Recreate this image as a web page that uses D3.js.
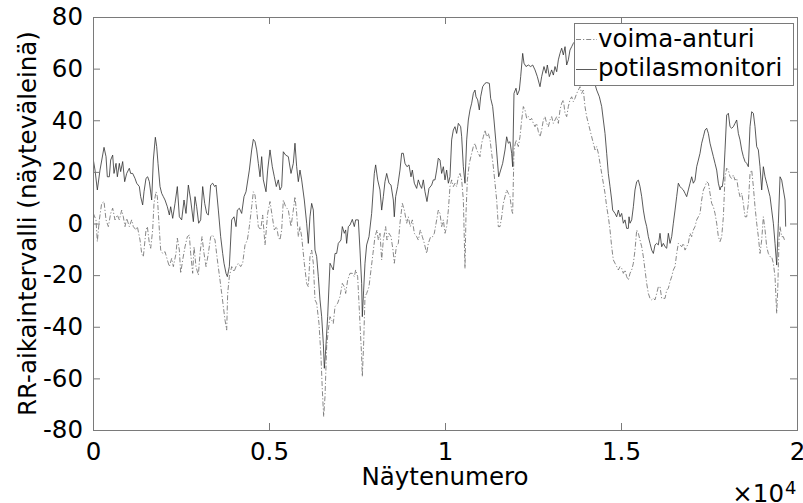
<!DOCTYPE html>
<html>
<head>
<meta charset="utf-8">
<script src="https://cdn.jsdelivr.net/npm/d3@7"></script>
<style>
  html, body { margin: 0; padding: 0; background: #fff; }
  svg { display: block; }
  text { font-family: "DejaVu Sans", sans-serif; fill: #000; }
</style>
</head>
<body>
<svg id="chart" width="803" height="503"></svg>
<script>
// RR-intervallien ero (näyteväleinä) näytenumeron funktiona, kaksi mittauslähdettä
const seriesNames = ["voima-anturi", "potilasmonitori"];

const xTicks = [0, 5000, 10000, 15000, 20000];
const yTicks = [-80, -60, -40, -20, 0, 20, 40, 60, 80];

// voima-anturi: näytenumerot ja arvot
const voimaX = [10,85,123,180,246,313,370,436,502,559,625,692,748,815,862,909,957,1032,1099,1146,1222,1260,1336,1383,1430,1506,1544,1601,1639,1695,1733,1790,1828,1885,1923,1979,2046,2112,2169,2235,2283,2358,2396,2453,2491,2548,2614,2680,2737,2775,2832,2870,2926,2993,3040,3097,3154,3211,3277,3343,3400,3466,3533,3608,3656,3703,3750,3798,3826,3873,3940,4006,4063,4129,4196,4252,4319,4385,4442,4508,4555,4603,4650,4697,4764,4820,4887,
  4962,5028,5094,5151,5217,5265,5312,5360,5407,5473,5549,5625,5691,5738,5786,5833,5880,5928,6003,6070,6117,6164,6212,6259,6307,6354,6420,6477,6515,6553,6591,6638,6685,6733,6780,6827,6875,6950,7017,7083,7140,7178,7235,7301,7367,7424,7462,7519,7585,7632,7651,7689,7727,7774,7841,7897,7954,8011,8068,8106,8153,8201,8248,8314,8352,8409,8466,8523,8560,8617,8674,8721,8788,8844,8911,8958,9015,9072,9129,9195,9242,9299,9356,9413,9479,9526,9593,9649,9697,9763,9810,
  9858,9905,9953,10000,10047,10095,10142,10189,10237,10284,10331,10379,10426,10474,10521,10549,10568,10597,10635,10691,10758,10805,10852,10900,10947,10994,11042,11089,11136,11184,11231,11279,11326,11373,11421,11468,11515,11563,11610,11657,11705,11752,11799,11847,11894,11922,11960,12017,12083,12131,12178,12226,12273,12320,12368,12415,12462,12510,12557,12604,12652,12699,12746,12794,12841,12888,12936,12983,13030,13078,13125,13173,13220,13267,13315,13362,13410,13457,13504,13551,13599,13646,13693,13741,13788,13836,13883,13930,13977,14025,14072,14120,14167,14214,14262,14309,14356,14404,14451,14498,14546,14593,14640,14688,14735,14782,
  14830,14877,14925,14972,15019,15067,15114,15161,15209,15256,15304,15351,15398,15446,15493,15540,15588,15635,15682,15730,15777,15824,15872,15919,15966,16014,16061,16108,16156,16203,16251,16298,16345,16393,16440,16487,16535,16582,16629,16677,16724,16771,16819,16866,16913,16961,17008,17055,17103,17150,17198,17245,17292,17340,17387,17434,17482,17529,17576,17624,17671,17718,17766,17813,17861,17908,17955,18002,18050,18097,18145,18192,18239,18287,18334,18381,18429,18476,18523,18571,18618,18665,18713,18760,18807,18855,18902,18949,18997,19044,19092,19139,19186,19234,19281,19328,19376,19423,19452,19490,19518,19565,19612,19660];
const voimaY = [3.9,1.4,-7.0,1.4,7.8,8.5,1.4,-1.2,3.9,5.9,1.4,3.3,1.4,5.2,2.6,-1.2,2.0,-1.2,1.4,-1.2,-2.5,-1.2,-6.4,-11.6,-12.9,-2.5,-1.2,-7.7,-9.6,-2.5,7.8,12.3,10.4,-2.5,-10.3,-11.6,-10.9,-14.1,-16.7,-13.5,-16.7,-11.6,-5.7,-10.3,-19.3,-14.1,-9.0,-5.1,-4.5,-11.6,-19.3,-9.0,-16.7,-20.0,-11.6,-5.1,-11.6,-16.7,-11.6,-5.1,-4.5,-6.4,-14.1,-21.9,-27.1,-32.2,-37.4,-41.3,-27.1,-20.6,-16.7,-18.7,-16.7,-15.4,-16.7,-15.4,-8.3,-6.4,-1.2,6.5,12.3,11.0,5.2,-1.2,-2.5,3.3,-8.3,
  3.9,8.5,2.6,-2.5,-1.2,-5.1,-6.4,-2.5,9.1,6.5,5.2,-1.2,5.2,10.4,3.9,-5.1,-1.2,-5.1,-15.4,-23.2,-24.5,-12.8,-10.3,-15.4,-29.6,-30.9,-38.7,-51.6,-64.5,-74.8,-67.1,-47.7,-41.3,-36.1,-37.4,-38.7,-32.2,-30.9,-28.3,-23.2,-24.5,-27.1,-21.9,-19.3,-19.3,-20.6,-18.0,-20.6,-38.7,-51.6,-59.3,-46.4,-28.3,-27.1,-24.5,-18.0,-11.6,-5.1,-2.5,-6.4,-3.8,-14.1,-6.4,-1.2,-6.4,-3.8,-5.1,-10.3,-15.4,-9.0,-7.7,0.1,7.8,5.2,0.1,2.6,-1.2,1.4,-3.8,-5.1,-6.4,-2.5,-5.1,-7.7,-11.6,-7.7,-5.1,-5.1,-3.8,1.4,5.2,
  3.9,-1.2,1.4,-3.8,-1.2,5.2,14.3,16.9,14.3,15.6,14.3,18.1,19.4,16.9,9.1,-6.4,-17.4,3.9,16.9,23.3,27.2,29.8,31.1,28.5,27.2,25.9,31.1,33.6,36.2,33.6,34.9,32.4,27.2,22.0,15.6,9.1,-1.2,-1.2,2.6,7.8,10.4,13.0,11.7,10.4,5.2,3.9,28.5,32.4,29.8,33.6,40.1,45.3,44.0,40.7,41.4,40.1,40.7,38.8,37.5,38.8,35.6,33.6,36.2,40.1,41.4,38.8,37.5,40.1,41.4,38.8,40.1,41.4,38.8,44.0,46.6,47.9,42.7,41.4,45.3,47.9,49.1,47.2,48.5,50.4,51.7,53.0,50.4,51.7,45.3,41.4,38.8,36.2,33.6,31.1,28.5,29.8,27.2,23.3,19.4,15.6,11.7,6.5,2.6,-2.5,-9.0,-14.1,
  -15.4,-16.7,-18.0,-16.7,-17.4,-19.3,-18.0,-20.6,-21.9,-19.3,-18.0,-15.4,-10.3,-2.5,-3.8,-6.4,-9.0,-12.9,-18.0,-23.2,-27.1,-29.0,-29.6,-29.0,-29.6,-27.1,-24.5,-24.5,-29.0,-29.0,-29.0,-25.8,-25.1,-22.5,-20.6,-18.0,-16.7,-11.6,-7.7,-8.3,-9.0,-7.7,-10.3,-9.0,-7.7,-3.8,-5.1,-2.5,-1.2,1.4,2.6,3.9,9.1,13.0,14.3,16.2,15.6,11.7,7.8,6.5,3.9,0.1,-5.1,-7.0,-5.1,2.6,18.1,21.4,20.7,18.1,17.5,18.8,16.8,17.5,13.0,10.4,11.7,7.8,2.6,2.6,7.8,19.4,20.7,14.3,6.5,0.1,-5.1,-11.6,-6.4,2.6,-2.5,-9.0,-11.6,-12.9,-12.9,-15.4,-20.6,-34.8,-25.8,-6.4,-1.2,-5.1,-5.1,-7.0];

// potilasmonitori: näytenumerot ja arvot
const potilasX = [10,57,123,199,313,370,407,464,502,559,597,654,692,748,786,843,900,957,1032,1070,1127,1193,1241,1317,1354,1411,1449,1506,1553,1601,1667,1714,1771,1809,1847,1904,1951,1998,2046,2112,2169,2207,2264,2330,2396,2453,2519,2586,2642,2709,2775,2851,2898,2945,3002,3059,3116,3173,3230,3277,3343,3400,3457,3495,3561,3627,3684,3722,3779,3817,3873,3940,4006,4063,4101,4158,4224,4290,4347,4442,4508,4555,4603,4650,4697,4745,4792,4839,4915,
  4962,5028,5094,5151,5208,5265,5312,5360,5407,5473,5549,5625,5691,5738,5786,5833,5880,5928,6003,6070,6117,6164,6212,6259,6307,6354,6401,6449,6496,6543,6572,6610,6666,6733,6780,6827,6875,6922,6969,7045,7083,7140,7178,7206,7254,7301,7367,7424,7462,7538,7585,7632,7651,7689,7727,7774,7841,7916,7992,8030,8087,8153,8201,8248,8295,8343,8409,8466,8532,8560,8598,8655,8721,8769,8816,8863,8920,8977,9034,9072,9129,9195,9242,9290,9337,9384,9432,9488,9545,9621,9668,9716,9763,9810,
  9858,9905,9953,10000,10047,10095,10142,10189,10237,10284,10331,10379,10445,10474,10521,10568,10616,10663,10710,10758,10805,10852,10881,10928,10975,11013,11070,11136,11184,11260,11297,11354,11392,11449,11487,11525,11582,11638,11705,11752,11799,11847,11894,11922,11960,12017,12055,12112,12150,12207,12244,12301,12368,12434,12491,12557,12623,12699,12746,12812,12869,12907,12964,13030,13078,13125,13173,13220,13267,13315,13362,13410,13457,13504,13551,13599,13646,13720,13800,13880,13960,14040,14120,14200,14260,14309,14385,14451,14498,14546,14593,14640,14688,14735,14763,
  14830,14877,14925,14972,15019,15067,15114,15161,15209,15228,15256,15304,15351,15398,15446,15493,15540,15588,15635,15682,15730,15777,15824,15872,15919,15966,16014,16061,16108,16156,16203,16251,16298,16345,16393,16440,16487,16535,16582,16629,16677,16724,16771,16819,16866,16913,16961,17008,17055,17103,17150,17198,17245,17292,17340,17387,17434,17482,17529,17576,17624,17671,17718,17766,17813,17841,17879,17917,17955,18002,18050,18097,18145,18192,18239,18287,18334,18381,18429,18476,18523,18571,18618,18665,18713,18760,18807,18855,18902,18949,18997,19044,19092,19139,19186,19234,19281,19328,19376,19423,19470,19518,19565,19612,19660,19679];
const potilasY = [24.6,20.7,13.0,20.7,29.5,25.9,18.1,18.1,24.6,26.5,19.4,23.3,18.1,23.3,20.1,24.0,16.2,19.4,21.4,19.4,19.4,17.5,15.6,14.3,10.4,7.2,12.3,17.5,18.1,16.2,9.1,24.6,33.4,29.8,23.3,14.3,11.7,10.4,9.1,6.5,3.3,6.5,2.0,7.8,14.3,2.6,1.4,9.1,3.9,14.9,9.1,0.7,10.4,6.5,0.1,1.4,14.3,7.8,3.9,3.3,14.9,15.6,14.3,14.9,5.2,-5.1,-11.6,-15.4,-19.3,-20.6,-16.7,1.4,2.6,-1.2,5.2,5.9,3.9,10.4,12.3,20.7,28.5,32.6,31.7,28.5,23.3,18.1,25.9,16.9,12.3,
  20.7,28.5,22.0,18.1,14.3,16.9,13.0,14.3,27.8,26.5,25.9,19.4,23.3,31.1,22.0,16.2,20.7,16.9,9.1,0.1,-7.7,2.6,7.8,5.2,-10.3,-12.8,-20.6,-29.6,-36.1,-46.4,-56.1,-49.0,-36.1,-15.4,-16.7,-18.0,-11.6,-11.6,-7.7,-6.4,-1.2,-3.8,-2.5,-7.7,-1.2,-0.6,1.6,-1.2,1.4,1.4,-10.3,-23.2,-36.1,-25.8,-15.4,-8.3,-5.1,3.9,19.4,22.7,16.9,13.0,5.2,10.4,16.2,19.4,15.6,14.9,9.1,2.6,10.4,14.3,20.7,27.2,27.2,23.3,22.0,22.7,18.1,20.7,15.6,13.6,16.9,14.9,13.6,16.9,12.3,8.5,13.6,14.9,16.9,16.9,20.7,25.3,
  24.6,19.4,22.0,16.9,20.7,15.6,18.1,32.4,36.2,37.5,34.9,38.8,37.5,33.6,22.0,15.6,32.4,40.1,44.0,46.6,50.4,51.7,49.1,47.9,44.0,49.1,53.0,54.3,54.6,54.3,48.5,45.3,40.1,31.1,24.6,18.1,20.7,23.3,28.5,33.6,31.1,31.7,27.2,22.0,50.4,52.4,49.8,51.7,56.9,65.9,62.1,60.8,61.4,60.8,61.4,59.5,56.9,53.0,56.9,60.8,58.2,61.4,56.9,59.5,57.5,60.8,58.8,63.4,65.9,67.9,65.3,68.5,61.4,63.4,67.2,68.5,69.8,71.0,67.0,70.0,66.0,63.0,60.0,57.0,54.0,51.7,49.1,45.3,40.1,34.9,27.2,19.4,14.3,9.1,5.2,
  3.9,2.6,5.2,2.6,3.9,0.1,1.4,-1.9,-1.9,2.6,0.1,1.4,6.5,13.0,16.2,16.8,14.3,10.4,5.2,1.4,-1.2,-5.1,-7.7,-10.3,-11.6,-8.3,-7.7,-8.3,-3.8,-9.0,-7.7,-9.0,-9.6,-3.8,-7.7,-5.1,0.1,5.2,10.4,15.6,14.3,13.6,13.0,11.7,10.4,13.0,15.6,18.1,15.6,16.8,22.0,24.6,27.2,31.1,33.6,36.2,36.9,34.9,31.1,28.5,25.9,23.3,20.7,15.6,13.0,14.3,14.3,18.1,28.5,42.0,42.7,37.5,36.9,37.5,38.8,40.1,34.9,32.4,28.5,25.9,24.0,23.3,22.0,37.5,43.3,42.7,37.5,29.8,28.5,22.0,13.0,22.0,18.1,15.6,13.0,10.4,5.2,0.1,-7.7,-16.1,0.1,18.1,16.8,13.0,9.1,-1.2];

const W = 803, H = 503;
const plot = { left: 93, right: 797, top: 17, bottom: 430 };
const fontSize = 24.5;

const svg = d3.select("#chart");

const x = d3.scaleLinear().domain([0, 20000]).range([plot.left, plot.right]);
const y = d3.scaleLinear().domain([-80, 80]).range([plot.bottom, plot.top]);

svg.append("defs").append("clipPath").attr("id", "plotClip")
  .append("rect")
  .attr("x", plot.left).attr("y", plot.top)
  .attr("width", plot.right - plot.left).attr("height", plot.bottom - plot.top);

const line = d3.line().x(d => x(d[0])).y(d => y(d[1]));
const voimaData = voimaX.map((s, i) => [s, voimaY[i]]);
const potilasData = potilasX.map((s, i) => [s, potilasY[i]]);

const lines = svg.append("g").attr("clip-path", "url(#plotClip)");
lines.append("path")
  .datum(voimaData)
  .attr("d", line)
  .attr("fill", "none")
  .attr("stroke", "#6a6a6a")
  .attr("stroke-width", 0.8)
  .attr("stroke-dasharray", "5,2,1.2,2");
lines.append("path")
  .datum(potilasData)
  .attr("d", line)
  .attr("fill", "none")
  .attr("stroke", "#303030")
  .attr("stroke-width", 0.8);

// akselit: sisäänpäin osoittavat merkit kaikilla sivuilla
const axisColor = "#7a7a7a";
function styleAxis(g) {
  g.select(".domain").remove();
  g.selectAll(".tick line").attr("stroke", axisColor);
  g.selectAll(".tick text")
    .style("font-family", '"DejaVu Sans", sans-serif')
    .style("font-size", fontSize + "px")
    .attr("fill", "#000");
}

svg.append("g")
  .attr("transform", `translate(0,${plot.bottom})`)
  .call(d3.axisBottom(x).tickValues(xTicks).tickSize(-7).tickPadding(13)
    .tickFormat(d => String(d / 10000)))
  .call(styleAxis);

svg.append("g")
  .attr("transform", `translate(0,${plot.top})`)
  .call(d3.axisTop(x).tickValues(xTicks).tickSize(-7).tickFormat(""))
  .call(styleAxis);

svg.append("g")
  .attr("transform", `translate(${plot.left},0)`)
  .call(d3.axisLeft(y).tickValues(yTicks).tickSize(-7).tickPadding(10)
    .tickFormat(d => String(d)))
  .call(styleAxis);

svg.append("g")
  .attr("transform", `translate(${plot.right},0)`)
  .call(d3.axisRight(y).tickValues(yTicks).tickSize(-7).tickFormat(""))
  .call(styleAxis);

svg.append("rect")
  .attr("x", plot.left + 0.5).attr("y", plot.top + 0.5)
  .attr("width", plot.right - plot.left).attr("height", plot.bottom - plot.top)
  .attr("fill", "none").attr("stroke", axisColor).attr("stroke-width", 1);

// akselien otsikot
svg.append("text")
  .attr("x", (plot.left + plot.right) / 2)
  .attr("y", 485)
  .attr("text-anchor", "middle")
  .style("font-size", fontSize + "px")
  .text("Näytenumero");

svg.append("text")
  .attr("transform", `translate(36,${(plot.top + plot.bottom) / 2}) rotate(-90)`)
  .attr("text-anchor", "middle")
  .style("font-size", fontSize + "px")
  .text("RR-aikaintervalli (näyteväleinä)");

// kerroin x-akselille
svg.append("text")
  .attr("x", 784).attr("y", 502)
  .attr("text-anchor", "end")
  .style("font-size", fontSize + "px")
  .text("×10");
svg.append("text")
  .attr("x", 785).attr("y", 494)
  .style("font-size", "18px")
  .text("4");

// selite
const legend = { x: 574, y: 23, w: 219, h: 62 };
svg.append("rect")
  .attr("x", legend.x + 0.5).attr("y", legend.y + 0.5)
  .attr("width", legend.w).attr("height", legend.h)
  .attr("fill", "#fff").attr("stroke", axisColor).attr("stroke-width", 1);

const legendRows = [
  { name: seriesNames[0], dash: "5,2,1.2,2", color: "#6a6a6a", cy: 39, base: 47 },
  { name: seriesNames[1], dash: null, color: "#303030", cy: 69, base: 76 }
];
legendRows.forEach(r => {
  svg.append("line")
    .attr("x1", legend.x + 2).attr("x2", legend.x + 23)
    .attr("y1", r.cy + 0.5).attr("y2", r.cy + 0.5)
    .attr("stroke", r.color).attr("stroke-width", 0.8)
    .attr("stroke-dasharray", r.dash);
  svg.append("text")
    .attr("x", legend.x + 24).attr("y", r.base)
    .style("font-size", fontSize + "px")
    .text(r.name);
});
</script>
</body>
</html>
